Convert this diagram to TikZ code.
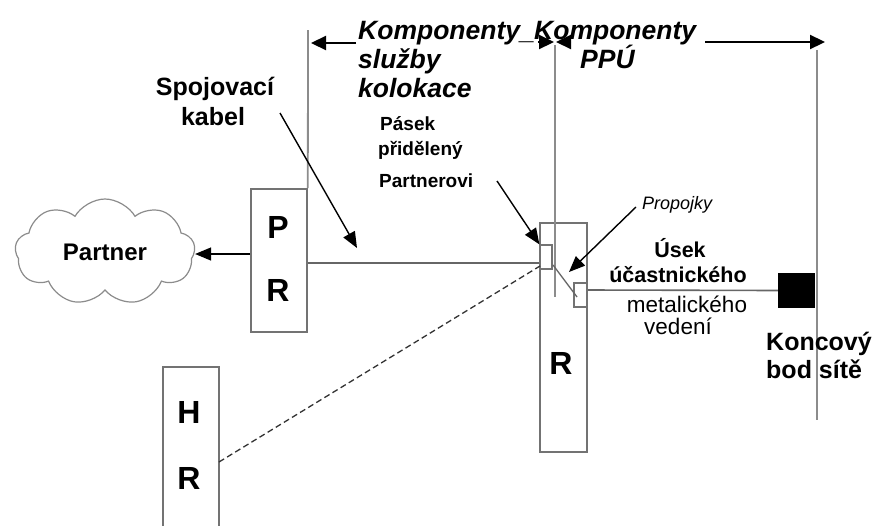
\documentclass[tikz,border=0pt]{standalone}
\usepackage{fontspec}
\setmainfont{Liberation Sans}
\usetikzlibrary{shapes.symbols,arrows.meta}
\newcommand{\fs}[1]{\fontsize{#1}{#1}\selectfont}
\begin{document}
\begin{tikzpicture}[x=1pt,y=-1pt,
  box/.style={draw=black!55,line width=1.6pt,fill=white,inner sep=0pt},
  pad/.style={draw=black!55,line width=1.2pt,fill=white,inner sep=0pt},
  wire/.style={draw=black!60,line width=1.6pt},
  guide/.style={draw=black!45,line width=1.8pt},
  pointer/.style={draw=black,line width=1.4pt,-{Triangle[length=16pt,width=13pt]}},
  dim/.style={draw=black,line width=2.2pt,-{Triangle[length=15pt,width=14pt]}},
  letter/.style={font=\fs{32}\bfseries,inner sep=0pt},
  lbl/.style={inner sep=0pt,anchor=base west},
  lblc/.style={inner sep=0pt,anchor=base}]
\useasboundingbox[fill=white] (0,0) rectangle (877,525);

% vertical boundary lines
\coordinate (lt) at (308,30);
\coordinate (mt) at (555,45);
\coordinate (rt) at (817,50);
\coordinate (rb) at (817,420);

% partner side
\node[cloud,cloud puffs=9,cloud puff arc=120,aspect=1.7,draw=black!45,line width=1.2pt,
      minimum width=180,minimum height=106,inner sep=0pt,font=\fs{24}\bfseries] (partner) at (105,252) {Partner};
\node[box,minimum width=56,minimum height=143] (pr) at (279,260.5) {};
\node[letter] (prp) at (278,227) {P};
\node[letter] (prr) at (278,290) {R};
\coordinate (prout) at (pr.east |- 0,263);
\coordinate (prin) at (pr.west |- 0,254);
\draw[guide] (lt) -- (pr.north east);

% HR box, running off the bottom edge
\coordinate (hrtl) at (163,367);
\coordinate (hrtr) at (219,367);
\draw[box] (163,530) -- (hrtl) -- (hrtr) -- (219,530);
\node[letter] (hrh) at (189,412) {H};
\node[letter] (hrr) at (189,478) {R};
\coordinate (hrout) at (219,462);

% main distribution frame
\node[box,minimum width=47,minimum height=229] (mdf) at (563.5,337.5) {};
\node[letter] (mdfr) at (561,363) {R};
\node[pad,minimum width=12,minimum height=24] (pad1) at (546,257) {};
\node[pad,minimum width=13,minimum height=24] (pad2) at (580.5,295) {};
\draw[guide] (mt) -- (555,297);
\coordinate (j1) at (553,265);
\coordinate (j2) at (577,297);
\draw[wire,line width=1.3pt] (j1) -- (j2);

% cables
\draw[wire] (prout) -- (pad1.west |- prout);
\draw[draw=black!80,line width=1.3pt,dash pattern=on 6pt off 3.5pt] (hrout) -- (540,266);
\draw[pointer,line width=1.3pt] (prin) -- (partner.east |- prin);

% local loop and network termination point
\node[fill=black,minimum width=37,minimum height=35,inner sep=0pt] (ntp) at (796.5,290.5) {};
\draw[wire] (mdf.east |- 0,290) -- (ntp.west);
\draw[guide] (rt) -- (rb);

% dimension arrows
\coordinate (a1s) at (356,43);
\coordinate (a1e) at (311,43);
\coordinate (a2s) at (538,42);
\coordinate (a2e) at (554,42);
\coordinate (a3s) at (571,42);
\coordinate (a3e) at (556,42);
\coordinate (a4s) at (705,42);
\coordinate (a4e) at (825,42);
\draw[dim] (a1s) -- (a1e);
\draw[dim] (a2s) -- (a2e);
\draw[dim] (a3s) -- (a3e);
\draw[dim] (a4s) -- (a4e);

% headings
\node[lbl,font=\fs{26.5}\bfseries\itshape] (k1) at (358,39) {Komponenty\_};
\node[lbl,font=\fs{26.5}\bfseries\itshape] (k2) at (534,39) {Komponenty};
\node[lbl,font=\fs{26.5}\bfseries\itshape] (k1b) at (358,68) {služby};
\node[lbl,font=\fs{26.5}\bfseries\itshape] (k1c) at (358,97) {kolokace};
\node[lbl,font=\fs{26.5}\bfseries\itshape] (k2b) at (580,68) {PPÚ};

% labels
\node[lblc,font=\fs{25}\bfseries] (sp1) at (215,95) {Spojovací};
\node[lblc,font=\fs{25}\bfseries] (sp2) at (213,125) {kabel};
\coordinate (spa) at (280,113);
\coordinate (spb) at (357,248);
\draw[pointer] (spa) -- (spb);

\node[lbl,font=\fs{19}\bfseries] (pa1) at (380,130) {Pásek};
\node[lbl,font=\fs{19}\bfseries] (pa2) at (378,155) {přidělený};
\node[lbl,font=\fs{19}\bfseries] (pa3) at (379,187) {Partnerovi};
\coordinate (paa) at (497,181);
\draw[pointer] (paa) -- (pad1.north west);

\node[lbl,font=\fs{18}\itshape] (pj) at (642,209) {Propojky};
\coordinate (pja) at (636,207);
\coordinate (pjb) at (569,272);
\draw[pointer] (pja) -- (pjb);

\node[lblc,font=\fs{21.5}\bfseries] (us1) at (680,257) {Úsek};
\node[lblc,font=\fs{21.5}\bfseries] (us2) at (678,282) {účastnického};
\node[lblc,font=\fs{22.5}] (us3) at (687,312) {metalického};
\node[lblc,font=\fs{22.5}] (us4) at (678,334) {vedení};

\node[lbl,font=\fs{25}\bfseries] (kb1) at (766,350) {Koncový};
\node[lbl,font=\fs{25}\bfseries] (kb2) at (766,378) {bod sítě};
\end{tikzpicture}
\end{document}
